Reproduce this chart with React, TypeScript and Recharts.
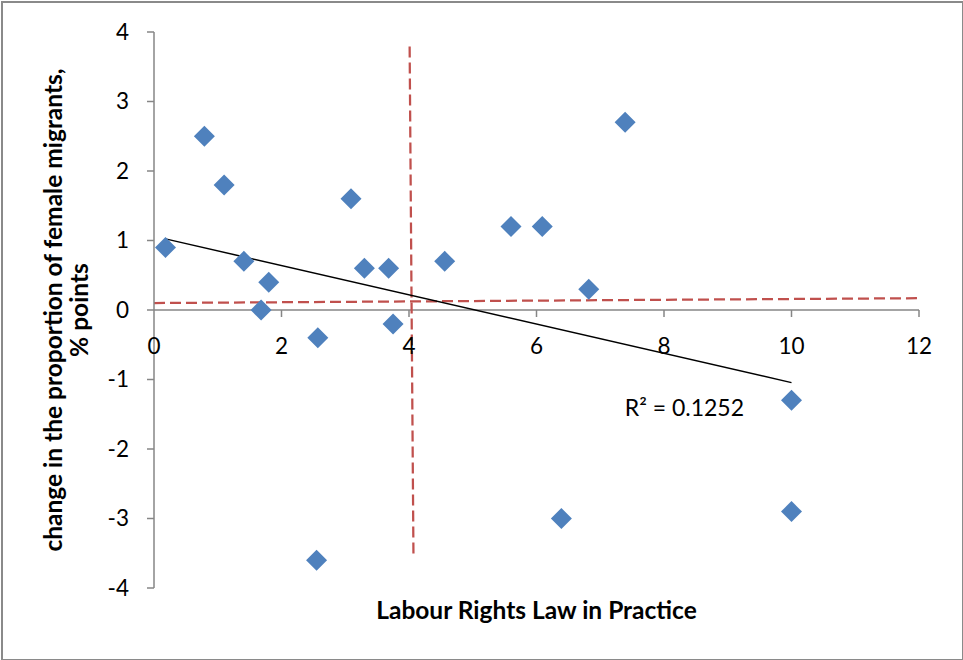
import {
  ScatterChart,
  Scatter,
  XAxis,
  YAxis,
  ReferenceLine,
  ReferenceDot,
} from 'recharts';

// Labour Rights Law in Practice (x) vs change in share of female migrants (y)
const labourRights = [0.18, 0.79, 1.1, 1.41, 1.8, 1.68, 2.57, 2.55, 3.09, 3.3, 3.68, 3.75, 4.56, 5.6, 6.09, 6.39, 6.82, 7.39, 10, 10];
const femaleShareChange = [0.9, 2.5, 1.8, 0.7, 0.4, 0, -0.4, -3.6, 1.6, 0.6, 0.6, -0.2, 0.7, 1.2, 1.2, -3, 0.3, 2.7, -1.3, -2.9];

const xTicks = [0, 2, 4, 6, 8, 10, 12];
const yTicks = [-4, -3, -2, -1, 0, 1, 2, 3, 4];

// red dashed split lines (as drawn on the original)
const verticalSplit = [{ x: 4.01, y: 3.79 }, { x: 4.07, y: -3.54 }];
const horizontalSplit = [{ x: 0, y: 0.1 }, { x: 12, y: 0.17 }];

const r2Label = 'R² = 0.1252';
const r2Anchor = { x: 8.32, y: -1.41 };

const points = labourRights.map((x, i) => ({ x, y: femaleShareChange[i] }));

// least squares trend line, drawn between the smallest and largest x
const n = points.length;
const meanX = points.reduce((s, p) => s + p.x, 0) / n;
const meanY = points.reduce((s, p) => s + p.y, 0) / n;
const slope =
  points.reduce((s, p) => s + (p.x - meanX) * (p.y - meanY), 0) /
  points.reduce((s, p) => s + (p.x - meanX) ** 2, 0);
const minX = Math.min(...labourRights);
const maxX = Math.max(...labourRights);
const trend = [
  { x: minX, y: meanY + slope * (minX - meanX) },
  { x: maxX, y: meanY + slope * (maxX - meanX) },
];

const FONT = 'Lato, "Open Sans", sans-serif';
const AXIS_GREY = '#868686';
const RED = '#C0504D';
const BLUE = '#4F81BD';

const W = 963;
const H = 660;
const MARGIN = { top: 32, right: 44, left: 0, bottom: 0 };
const X_AXIS_H = 72;
const PLOT_H = H - MARGIN.top - MARGIN.bottom - X_AXIS_H;

const Diamond = (props: any) => {
  const { cx, cy } = props;
  const s = 10.5;
  return (
    <polygon
      points={`${cx},${cy - s} ${cx + s},${cy} ${cx},${cy + s} ${cx - s},${cy}`}
      fill={BLUE}
    />
  );
};

// x axis sits on y = 0, half way up the plot
const XTick = (props: any) => {
  const { x, y, payload } = props;
  const y0 = y - PLOT_H / 2;
  return (
    <g>
      {payload.value !== 0 && (
        <line x1={x} x2={x} y1={y0} y2={y0 + 7} stroke={AXIS_GREY} strokeWidth={1.5} />
      )}
      <text x={x} y={y0 + 44} textAnchor="middle" fill="#000" fontSize={22.5} fontFamily={FONT}>
        {payload.value}
      </text>
    </g>
  );
};

const XTitle = (props: any) => {
  const { viewBox } = props;
  return (
    <text
      x={viewBox.x + viewBox.width / 2}
      y={viewBox.y + 31}
      textAnchor="middle"
      fontSize={24.5}
      fontWeight="bold"
      fontFamily={FONT}
      fill="#000"
    >
      Labour Rights Law in Practice
    </text>
  );
};

const YTitle = (props: any) => {
  const { viewBox } = props;
  const cx = 62;
  const cy = viewBox.y + viewBox.height / 2;
  return (
    <text
      transform={`rotate(-90 ${cx} ${cy})`}
      x={cx}
      y={cy}
      textAnchor="middle"
      fontSize={24.5}
      fontWeight="bold"
      fontFamily={FONT}
      fill="#000"
    >
      <tspan x={cx} dy={0}>change in the proportion of female migrants,</tspan>
      <tspan x={cx} dy={26}>% points</tspan>
    </text>
  );
};

export default function App() {
  return (
    <div
      style={{
        position: 'absolute',
        left: 0,
        top: 0,
        width: W,
        height: H,
        background: '#fff',
        fontFamily: FONT,
      }}
    >
      <div
        style={{
          position: 'absolute',
          left: 1,
          top: 1,
          width: W - 4,
          height: H - 4,
          border: '2px solid #8a8a8a',
          pointerEvents: 'none',
        }}
      />
      <ScatterChart width={W} height={H} margin={MARGIN}>
        <XAxis
          type="number"
          dataKey="x"
          domain={[0, 12]}
          ticks={xTicks}
          interval={0}
          height={X_AXIS_H}
          axisLine={false}
          tickLine={false}
          tickSize={0}
          tickMargin={0}
          tick={<XTick />}
          label={<XTitle />}
        />
        <YAxis
          type="number"
          dataKey="y"
          domain={[-4, 4]}
          ticks={yTicks}
          interval={0}
          width={154}
          stroke={AXIS_GREY}
          axisLine={{ stroke: AXIS_GREY, strokeWidth: 1.5 }}
          tickLine={{ stroke: AXIS_GREY, strokeWidth: 1.5 }}
          tickSize={7}
          tickMargin={18}
          tick={{ fill: '#000', fontSize: 22.5, fontFamily: FONT }}
          label={<YTitle />}
        />
        <ReferenceLine y={0} stroke={AXIS_GREY} strokeWidth={1.5} />
        <ReferenceLine segment={horizontalSplit} stroke={RED} strokeWidth={2.25} strokeDasharray="11 5" />
        <ReferenceLine segment={verticalSplit} stroke={RED} strokeWidth={2.25} strokeDasharray="11 5" />
        <Scatter data={points} shape={Diamond} isAnimationActive={false} />
        <ReferenceLine segment={trend} stroke="#000" strokeWidth={1.5} />
        <ReferenceDot
          x={r2Anchor.x}
          y={r2Anchor.y}
          r={1}
          fill="none"
          stroke="none"
          label={{ value: r2Label, position: 'center', fill: '#000', fontSize: 23, fontFamily: FONT }}
        />
      </ScatterChart>
    </div>
  );
}
